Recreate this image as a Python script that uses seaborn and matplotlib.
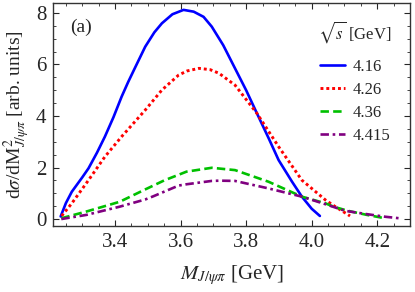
import matplotlib
matplotlib.use('Agg')
import matplotlib.pyplot as plt
import pandas as pd
import seaborn as sns
from matplotlib.ticker import MultipleLocator

# values
m_416 = [3.234, 3.25, 3.268, 3.30, 3.319, 3.345, 3.369, 3.395, 3.42, 3.44, 3.46, 3.492, 3.52,
         3.543, 3.575, 3.609, 3.64, 3.67, 3.695, 3.73, 3.766, 3.80, 3.833, 3.87, 3.899,
         3.94, 3.97, 4.00, 4.025]
s_416 = [0.10, 0.62, 1.06, 1.62, 1.97, 2.58, 3.20, 3.95, 4.75, 5.32, 5.85, 6.69, 7.25,
         7.60, 7.95, 8.12, 8.05, 7.85, 7.47, 6.75, 5.85, 5.00, 4.10, 3.10, 2.29,
         1.45, 0.87, 0.40, 0.12]

m_426 = [3.237, 3.268, 3.319, 3.369, 3.42, 3.492, 3.543, 3.594, 3.62, 3.656, 3.69, 3.717,
         3.766, 3.833, 3.899, 3.97, 4.042, 4.072, 4.117]
s_426 = [0.12, 0.61, 1.51, 2.42, 3.20, 4.23, 5.01, 5.59, 5.75, 5.85, 5.80, 5.66,
         5.20, 4.10, 2.81, 1.51, 0.74, 0.48, 0.12]

m_436 = [3.236, 3.312, 3.414, 3.492, 3.55, 3.618, 3.695, 3.766, 3.868, 3.97, 4.042,
         4.067, 4.11, 4.169, 4.224]
s_436 = [0.03, 0.29, 0.67, 1.15, 1.50, 1.84, 1.99, 1.90, 1.45, 0.87, 0.61,
         0.48, 0.32, 0.16, 0.03]

m_4415 = [3.236, 3.312, 3.414, 3.492, 3.516, 3.594, 3.618, 3.695, 3.72, 3.766, 3.868,
          3.97, 4.041, 4.102, 4.163, 4.224, 4.275]
s_4415 = [0.0, 0.16, 0.48, 0.76, 0.88, 1.30, 1.35, 1.48, 1.49, 1.48, 1.19,
          0.87, 0.58, 0.32, 0.20, 0.09, 0.02]

energies = ['4.16', '4.26', '4.36', '4.415']
colors = ['#0000ff', '#ff0000', '#00c000', '#800080']

sns.set_style('ticks')
plt.rcParams['font.family'] = ['Liberation Serif', 'DejaVu Serif']
plt.rcParams['mathtext.fontset'] = 'stix'

fig = plt.figure(figsize=(4.15, 2.92), dpi=100)
ax = fig.add_axes([0.128, 0.226, 0.860, 0.764])

curves = [(m_416, s_416), (m_426, s_426), (m_436, s_436), (m_4415, s_4415)]
styles = [dict(lw=1.9, linestyle='-'),
          dict(lw=2.1, linestyle=(0, (1, 1.0))),
          dict(lw=1.9, linestyle=(0, (3.2, 1.6))),
          dict(lw=1.9, linestyle=(0, (3.2, 1.4, 1, 1.4)))]
for (m, s), e, c, st in zip(curves, energies, colors, styles):
    df = pd.DataFrame({'M': m, 'sig': s})
    sns.lineplot(data=df, x='M', y='sig', sort=False, color=c, label=e, ax=ax, **st)

ax.set_xlim(3.211, 4.30)
ax.set_ylim(-0.27, 8.39)
ax.xaxis.set_major_locator(MultipleLocator(0.2))
ax.xaxis.set_minor_locator(MultipleLocator(0.05))
ax.yaxis.set_major_locator(MultipleLocator(2))
ax.yaxis.set_minor_locator(MultipleLocator(0.5))
ax.tick_params(which='both', direction='in', top=True, right=True, labelsize=15)
ax.tick_params(which='major', length=4, width=0.8, pad=5)
ax.tick_params(which='minor', length=2, width=0.6)
for sp in ax.spines.values():
    sp.set_linewidth(1.0)
    sp.set_color('#333333')

ax.set_xlabel(r'$M_{J/\psi\pi}$ [GeV]', fontsize=15, labelpad=8)
ax.set_ylabel(r'd$\sigma$/dM$^2_{J/\psi\pi}$ [arb. units]', fontsize=14, labelpad=3)
ax.text(0.048, 0.87, '(a)', transform=ax.transAxes, fontsize=14)

leg = ax.legend(title=r'$\sqrt{s}$ [GeV]', loc='upper right', bbox_to_anchor=(0.99, 0.995),
                frameon=False, fontsize=12, title_fontsize=12, handlelength=1.5,
                handletextpad=0.45, labelspacing=0.42)
leg._legend_box.sep = 10

fig.savefig('out.png', dpi=100)
